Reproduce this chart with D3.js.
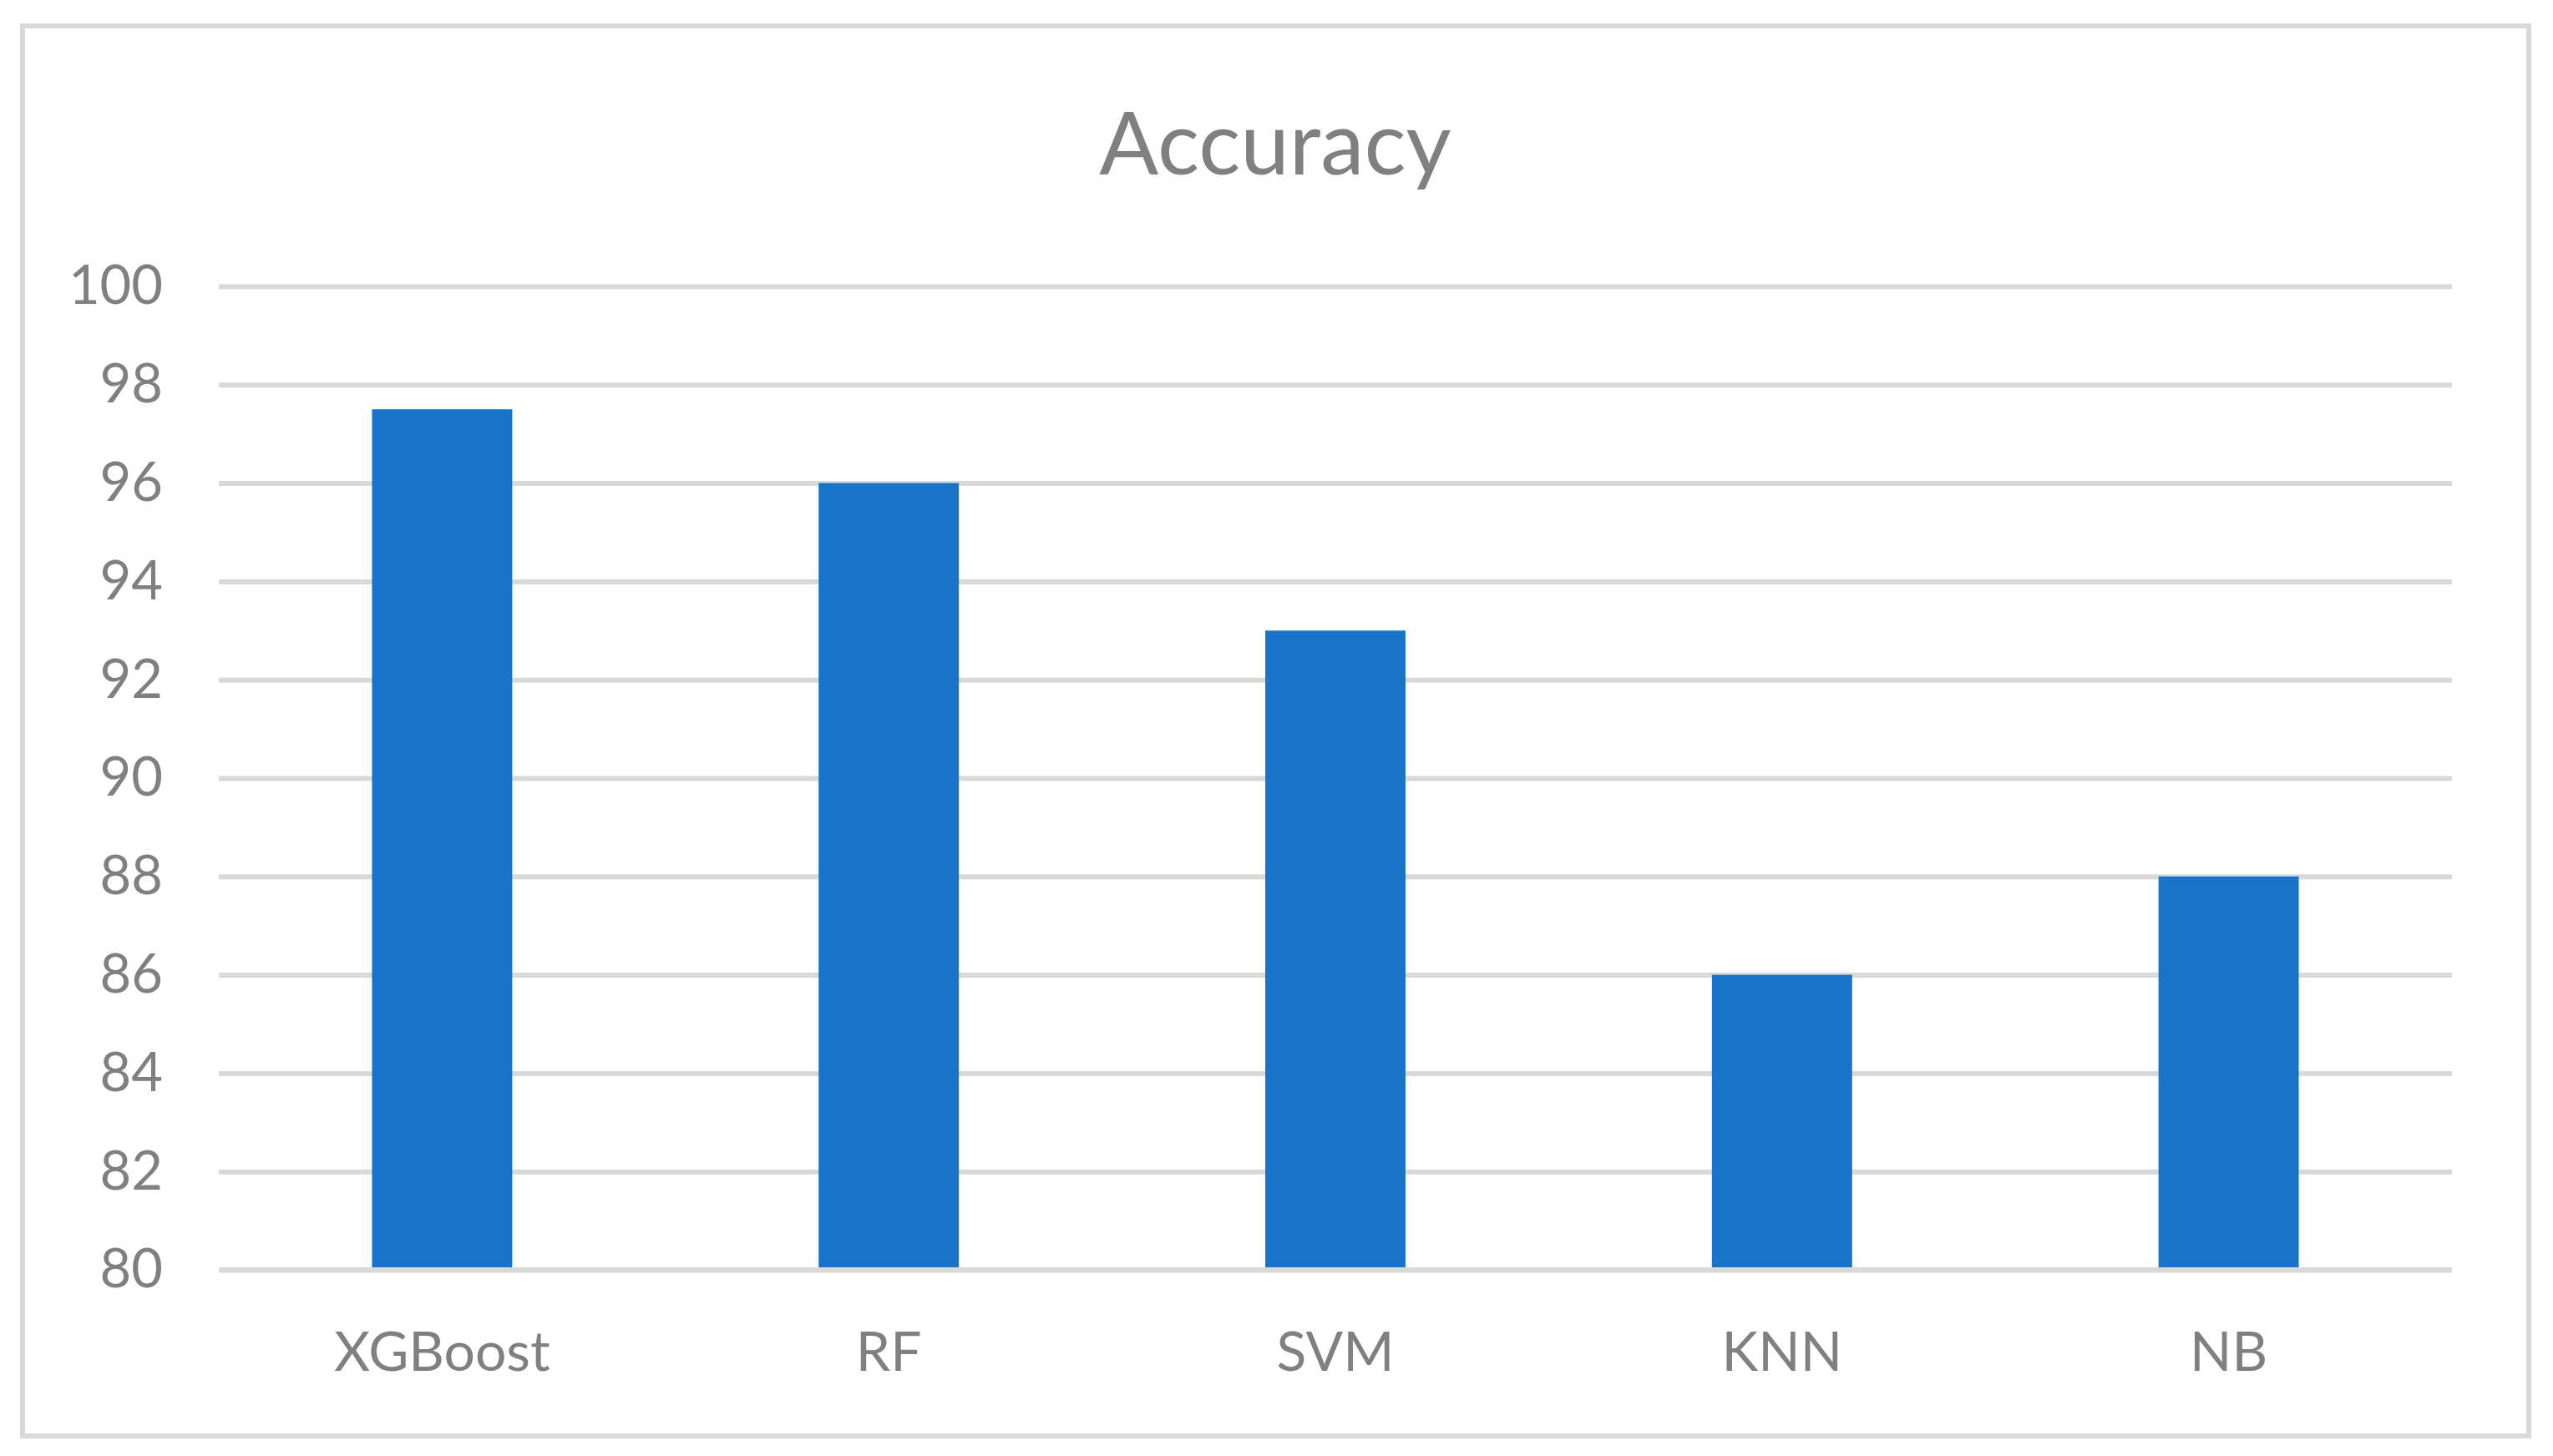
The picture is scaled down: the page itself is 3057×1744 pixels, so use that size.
<!DOCTYPE html>
<html>
<head>
<meta charset="utf-8">
<script src="https://cdn.jsdelivr.net/npm/d3@7"></script>
<style>
  html, body { margin: 0; padding: 0; background: #fff; }
  svg { display: block; font-family: Lato, "Open Sans", sans-serif; }
</style>
</head>
<body>
<div id="chart"></div>
<script>
const models = ["XGBoost", "RF", "SVM", "KNN", "NB"];
const accuracy = [97.5, 96, 93, 86, 88];
const yTicks = [80, 82, 84, 86, 88, 90, 92, 94, 96, 98, 100];
const chartTitle = "Accuracy";

const width = 3057, height = 1744;
const textColor = "#808080";
const gridColor = "#d9d9d9";
const barColor = "#1874c9";

const svg = d3.select("#chart")
    .append("svg")
    .attr("width", width)
    .attr("height", height);

// Chart frame
svg.append("rect")
    .attr("x", 27)
    .attr("y", 31)
    .attr("width", 3001)
    .attr("height", 1689)
    .attr("fill", "#fff")
    .attr("stroke", gridColor)
    .attr("stroke-width", 6);

const plot = { left: 262, right: 2936, top: 343, bottom: 1521 };

const x = d3.scaleBand()
    .domain(models)
    .range([plot.left, plot.right])
    .paddingInner(0.686)
    .paddingOuter(0.343);

const y = d3.scaleLinear()
    .domain([80, 100])
    .range([plot.bottom, plot.top]);

// Gridlines
svg.append("g")
    .attr("transform", `translate(${plot.left},0)`)
    .call(d3.axisLeft(y)
        .tickValues(yTicks)
        .tickSize(-(plot.right - plot.left))
        .tickFormat(""))
    .call(g => g.select(".domain").remove())
    .selectAll("line")
    .attr("stroke", gridColor)
    .attr("stroke-width", 6);

// Bars
svg.append("g")
    .selectAll("rect")
    .data(models)
    .enter()
    .append("rect")
    .attr("x", d => x(d))
    .attr("y", (d, i) => y(accuracy[i]))
    .attr("width", x.bandwidth())
    .attr("height", (d, i) => y(80) - y(accuracy[i]))
    .attr("fill", barColor);

// Baseline on top of the bars
svg.append("line")
    .attr("x1", plot.left)
    .attr("x2", plot.right)
    .attr("y1", y(80))
    .attr("y2", y(80))
    .attr("stroke", gridColor)
    .attr("stroke-width", 6);

// Y tick labels
svg.append("g")
    .attr("transform", `translate(${plot.left},0)`)
    .call(d3.axisLeft(y).tickValues(yTicks).tickSize(0).tickPadding(67))
    .call(g => g.select(".domain").remove())
    .selectAll("text")
    .attr("fill", textColor)
    .style("font-family", "Lato, 'Open Sans', sans-serif")
    .style("font-size", "65px");

// X labels
svg.append("g")
    .attr("transform", `translate(0,${plot.bottom})`)
    .call(d3.axisBottom(x).tickSize(0).tickPadding(74))
    .call(g => g.select(".domain").remove())
    .selectAll("text")
    .attr("fill", textColor)
    .style("font-family", "Lato, 'Open Sans', sans-serif")
    .style("font-size", "66px");

// Title
svg.append("text")
    .attr("x", 1527)
    .attr("y", 209)
    .attr("text-anchor", "middle")
    .attr("fill", textColor)
    .style("font-size", "105px")
    .text(chartTitle);
</script>
</body>
</html>
